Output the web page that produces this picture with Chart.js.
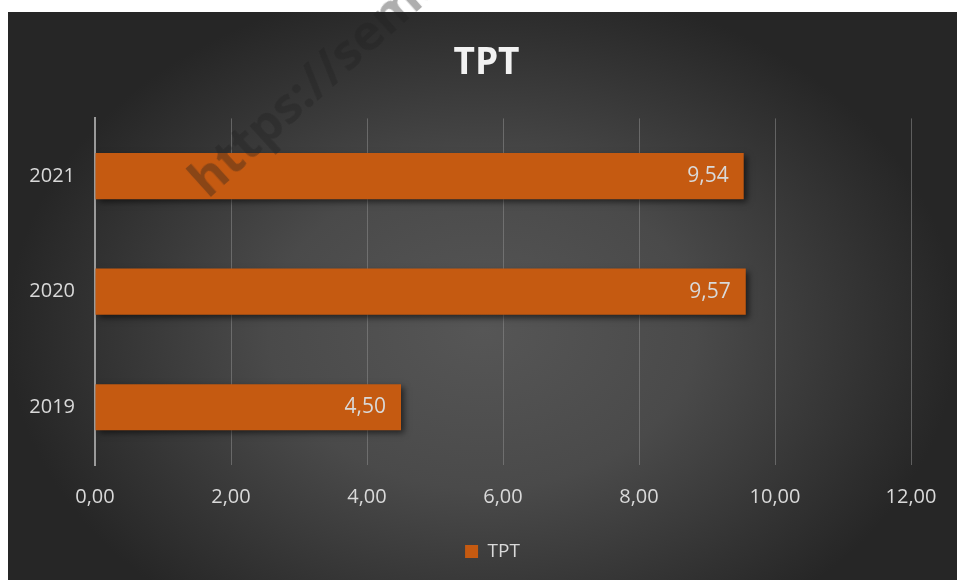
<!DOCTYPE html>
<html>
<head>
<meta charset="utf-8">
<script src="https://cdn.jsdelivr.net/npm/chart.js@4"></script>
<style>
  html,body{margin:0;padding:0;background:#ffffff;}
  body{width:957px;height:580px;position:relative;overflow:hidden;}
  #wrap{position:absolute;left:8px;top:12px;width:949px;height:568px;}
  #wm{position:absolute;left:212px;top:154px;font:bold 50px 'Open Sans',sans-serif;line-height:50px;
      color:rgba(30,30,30,0.36);white-space:nowrap;transform:rotate(-42deg);transform-origin:0 100%;pointer-events:none;}
</style>
</head>
<body>
<div id="wrap"><canvas id="c" width="949" height="568"></canvas></div>
<div id="wm"></div>
<script>
const categories = ['2021', '2020', '2019'];
const seriesName = 'TPT';
const values = [9.54, 9.57, 4.50];
const xTicks = [0, 2, 4, 6, 8, 10, 12];
const titleText = 'TPT';
const watermark = 'https://sema';

document.getElementById('wm').textContent = watermark;

const fmt = v => v.toFixed(2).replace('.', ',');
const FONT = "'Open Sans', 'Liberation Sans', sans-serif";
const TXT = '#d9d9d9';
const BAR = '#c55a11';

const bgPlugin = {
  id: 'bg',
  beforeDraw(chart) {
    const ctx = chart.ctx, w = chart.width, h = chart.height;
    ctx.save();
    ctx.fillStyle = '#262626';
    ctx.fillRect(0, 0, w, h);
    ctx.translate(w * 0.5, h * 0.56);
    ctx.scale(1.35, 1);
    const r = h * 0.62;
    const g = ctx.createRadialGradient(0, 0, 0, 0, 0, r);
    g.addColorStop(0, '#565656');
    g.addColorStop(0.45, '#4a4a4a');
    g.addColorStop(0.8, '#333333');
    g.addColorStop(1, '#262626');
    ctx.fillStyle = g;
    ctx.beginPath();
    ctx.arc(0, 0, r * 1.6, 0, Math.PI * 2);
    ctx.fill();
    ctx.restore();
  }
};

// shift title and legend horizontally so they are centred like the reference
const centerPlugin = {
  id: 'centerBoxes',
  afterLayout(chart) {
    const t = chart.titleBlock;
    if (t) { t.left += 27; t.right += 27; }
    const l = chart.legend;
    if (l) { l.left += 33; l.right += 33; }
  }
};

const shadowPlugin = {
  id: 'barShadow',
  beforeDatasetsDraw(chart) {
    const ctx = chart.ctx;
    ctx.save();
    ctx.shadowColor = 'rgba(0,0,0,0.55)';
    ctx.shadowBlur = 6;
    ctx.shadowOffsetX = 3;
    ctx.shadowOffsetY = 3;
  },
  afterDatasetsDraw(chart) {
    chart.ctx.restore();
    const ctx = chart.ctx;
    const meta = chart.getDatasetMeta(0);
    ctx.save();
    ctx.font = "21px " + FONT;
    ctx.fillStyle = TXT;
    ctx.textAlign = 'right';
    ctx.textBaseline = 'middle';
    meta.data.forEach((bar, i) => {
      ctx.fillText(fmt(values[i]), bar.x - 15, bar.y);
    });
    ctx.restore();
  }
};

new Chart(document.getElementById('c'), {
  type: 'bar',
  data: {
    labels: categories,
    datasets: [{
      label: seriesName,
      data: values,
      backgroundColor: BAR,
      borderWidth: 0,
      barPercentage: 0.4,
      categoryPercentage: 1.0
    }]
  },
  options: {
    indexAxis: 'y',
    responsive: false,
    animation: false,
    events: [],
    layout: { padding: { left: 0, right: 46, top: 0, bottom: 9 } },
    scales: {
      x: {
        min: 0, max: 12,
        afterBuildTicks(scale) { scale.ticks = xTicks.map(v => ({ value: v })); },
        ticks: {
          color: TXT,
          font: { family: FONT, size: 20 },
          padding: 20,
          callback: v => fmt(v)
        },
        grid: { color: 'rgba(140,140,140,0.55)', lineWidth: 1, drawTicks: false },
        border: { display: false }
      },
      y: {
        afterFit(scale) { scale.width = 87; },
        ticks: {
          color: TXT,
          font: { family: FONT, size: 20 },
          padding: 20
        },
        grid: { display: false, drawTicks: false },
        border: { display: true, color: '#9a9a9a', width: 2 }
      }
    },
    plugins: {
      title: {
        display: true,
        text: titleText,
        color: '#f2f2f2',
        font: { family: FONT, size: 37, weight: 'bold' },
        padding: { top: 29, bottom: 33 }
      },
      legend: {
        display: true,
        position: 'bottom',
        labels: {
          color: TXT,
          font: { family: FONT, size: 19 },
          boxWidth: 13,
          boxHeight: 13,
          padding: 13
        }
      },
      tooltip: { enabled: false }
    }
  },
  plugins: [bgPlugin, centerPlugin, shadowPlugin]
});
</script>
</body>
</html>
